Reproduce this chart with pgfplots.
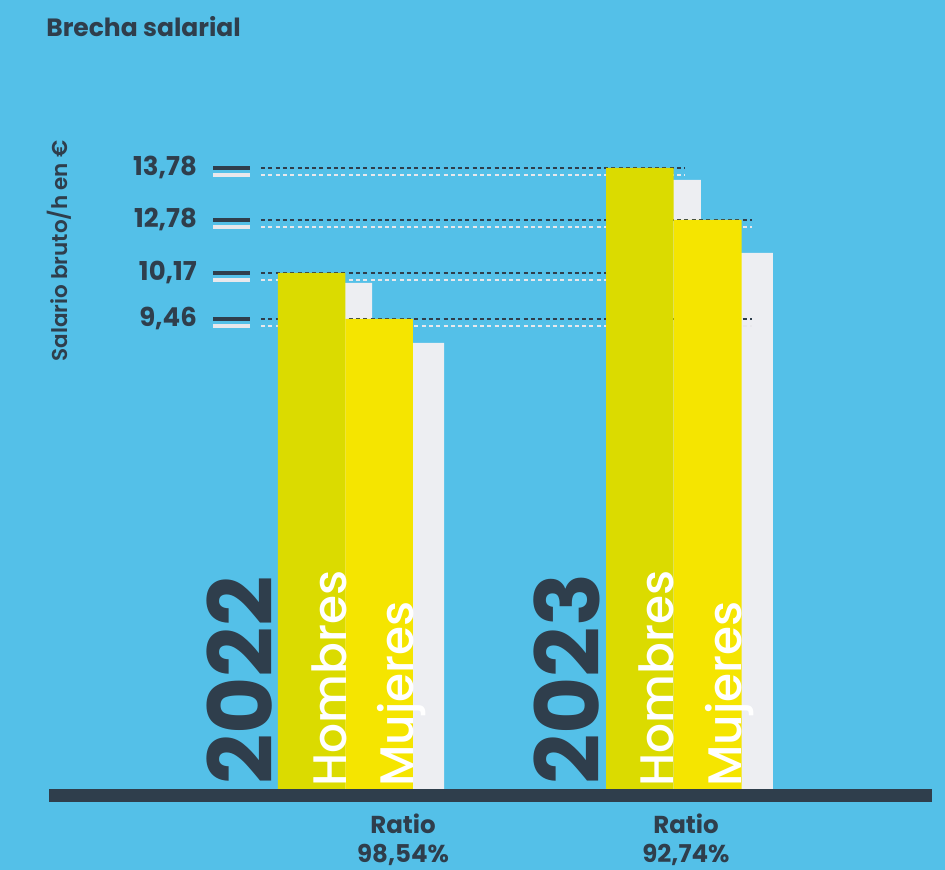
\documentclass[border=0pt]{standalone}
\usepackage{pgfplots}
\pgfplotsset{compat=1.18}
\usepackage{fontspec}
\setmainfont{Poppins}
\newfontfamily\pmed{Poppins Medium}
\newfontfamily\psemi{Poppins SemiBold}
\definecolor{bg}{RGB}{84,192,232}
\definecolor{dk}{RGB}{47,62,76}
\definecolor{hom}{RGB}{219,219,0}
\definecolor{muj}{RGB}{245,229,0}
\definecolor{sh}{RGB}{237,238,242}
\definecolor{lt}{RGB}{232,232,236}
\begin{document}
\begin{tikzpicture}
\begin{axis}[
  scale only axis, width=945pt, height=870pt,
  xmin=0, xmax=945, ymin=-1.6068, ymax=17.0108,
  % piecewise-linear value scale, as in the original graphic
  y coord trafo/.code={\pgfmathparse{(#1)<9.46 ? 49.789*(#1) : ((#1)<10.17 ? 471+((#1)-9.46)*64.789 : ((#1)<12.78 ? 517+((#1)-10.17)*20.307 : 570+((#1)-12.78)*52))}},
  axis line style={draw=none},
  axis background/.style={fill=bg},
  xtick=\empty,
  ytick={9.46,10.17,12.78,13.78},
  yticklabels={{9,46},{10,17},{12,78},{13,78}},
  major tick length=0pt,
  yticklabel style={anchor=east, inner sep=0pt, xshift=197pt, font=\fontsize{26}{26}\selectfont\bfseries, text=dk},
  clip=false,
]
% shadow bars
\addplot[ybar, bar width=67.5, bar shift=0pt, fill=sh, draw=none] coordinates {(338.25,10.016) (410.25,8.978) (667.25,13.549) (739.25,11.155)};
% dotted guide lines (dark)
\addplot[dk, line width=2.8pt, dash pattern=on 4pt off 3.3pt] coordinates {(261,13.78) (685,13.78)};
\addplot[dk, line width=2.8pt, dash pattern=on 4pt off 3.3pt] coordinates {(261,12.78) (752,12.78)};
\addplot[dk, line width=2.8pt, dash pattern=on 4pt off 3.3pt] coordinates {(261,10.17) (640,10.17)};
\addplot[dk, line width=2.8pt, dash pattern=on 4pt off 3.3pt] coordinates {(261,9.46) (752,9.46)};
% dotted guide lines (light)
\addplot[lt, line width=2.8pt, dash pattern=on 4pt off 3.3pt, yshift=-7pt] coordinates {(261,13.78) (685,13.78)};
\addplot[lt, line width=2.8pt, dash pattern=on 4pt off 3.3pt, yshift=-7pt] coordinates {(261,12.78) (752,12.78)};
\addplot[lt, line width=2.8pt, dash pattern=on 4pt off 3.3pt, yshift=-7pt] coordinates {(261,10.17) (640,10.17)};
\addplot[lt, line width=2.8pt, dash pattern=on 4pt off 3.3pt, yshift=-7pt] coordinates {(261,9.46) (752,9.46)};
% short tick marks
\addplot[dk, line width=3.2pt] coordinates {(213,13.78) (250,13.78)};
\addplot[dk, line width=3.2pt] coordinates {(213,12.78) (250,12.78)};
\addplot[dk, line width=3.2pt] coordinates {(213,10.17) (250,10.17)};
\addplot[dk, line width=3.2pt] coordinates {(213,9.46) (250,9.46)};
\addplot[lt, line width=3.2pt, yshift=-7pt] coordinates {(213,13.78) (250,13.78)};
\addplot[lt, line width=3.2pt, yshift=-7pt] coordinates {(213,12.78) (250,12.78)};
\addplot[lt, line width=3.2pt, yshift=-7pt] coordinates {(213,10.17) (250,10.17)};
\addplot[lt, line width=3.2pt, yshift=-7pt] coordinates {(213,9.46) (250,9.46)};
% bars
\addplot[ybar, bar width=67.5, bar shift=0pt, fill=hom, draw=none] coordinates {(311.5,10.17) (640,13.78)};
\addplot[ybar, bar width=67.5, bar shift=0pt, fill=muj, draw=none] coordinates {(379,9.46) (708,12.78)};
% baseline
\fill[dk] (rel axis cs:0.05185,0.07816) rectangle (rel axis cs:0.98624,0.09310);
% texts
\node[anchor=base west, inner sep=0pt, font=\fontsize{25}{25}\selectfont\bfseries, text=dk] at (rel axis cs:0.04868,0.95747) {Brecha salarial};
\node[anchor=base, rotate=90, inner sep=0pt, font=\fontsize{21.5}{21.5}\psemi\selectfont, text=dk] at (rel axis cs:0.0709,0.71149) {Salario bruto/h en €};
\node[anchor=base west, rotate=90, inner sep=0pt, font=\fontsize{88}{88}\selectfont\bfseries, text=dk] at (rel axis cs:0.28783,0.0977) {2022};
\node[anchor=base west, rotate=90, inner sep=0pt, font=\fontsize{47}{47}\pmed\selectfont, text=white] at (rel axis cs:0.36614,0.0954) {Hombres};
\node[anchor=base west, rotate=90, inner sep=0pt, font=\fontsize{47}{47}\pmed\selectfont, text=white] at (rel axis cs:0.43704,0.0954) {Mujeres};
\node[anchor=base west, rotate=90, inner sep=0pt, font=\fontsize{88}{88}\selectfont\bfseries, text=dk] at (rel axis cs:0.63492,0.0977) {2023};
\node[anchor=base west, rotate=90, inner sep=0pt, font=\fontsize{47}{47}\pmed\selectfont, text=white] at (rel axis cs:0.71323,0.0954) {Hombres};
\node[anchor=base west, rotate=90, inner sep=0pt, font=\fontsize{47}{47}\pmed\selectfont, text=white] at (rel axis cs:0.78519,0.0954) {Mujeres};
\node[anchor=base, inner sep=0pt, font=\fontsize{24.5}{24.5}\selectfont\bfseries, text=dk] at (rel axis cs:0.42646,0.04138) {Ratio};
\node[anchor=base, inner sep=0pt, font=\fontsize{24.5}{24.5}\selectfont\bfseries, text=dk] at (rel axis cs:0.42646,0.00805) {98,54\%};
\node[anchor=base, inner sep=0pt, font=\fontsize{24.5}{24.5}\selectfont\bfseries, text=dk] at (rel axis cs:0.72593,0.04138) {Ratio};
\node[anchor=base, inner sep=0pt, font=\fontsize{24.5}{24.5}\selectfont\bfseries, text=dk] at (rel axis cs:0.72593,0.00805) {92,74\%};
\end{axis}
\end{tikzpicture}
\end{document}
